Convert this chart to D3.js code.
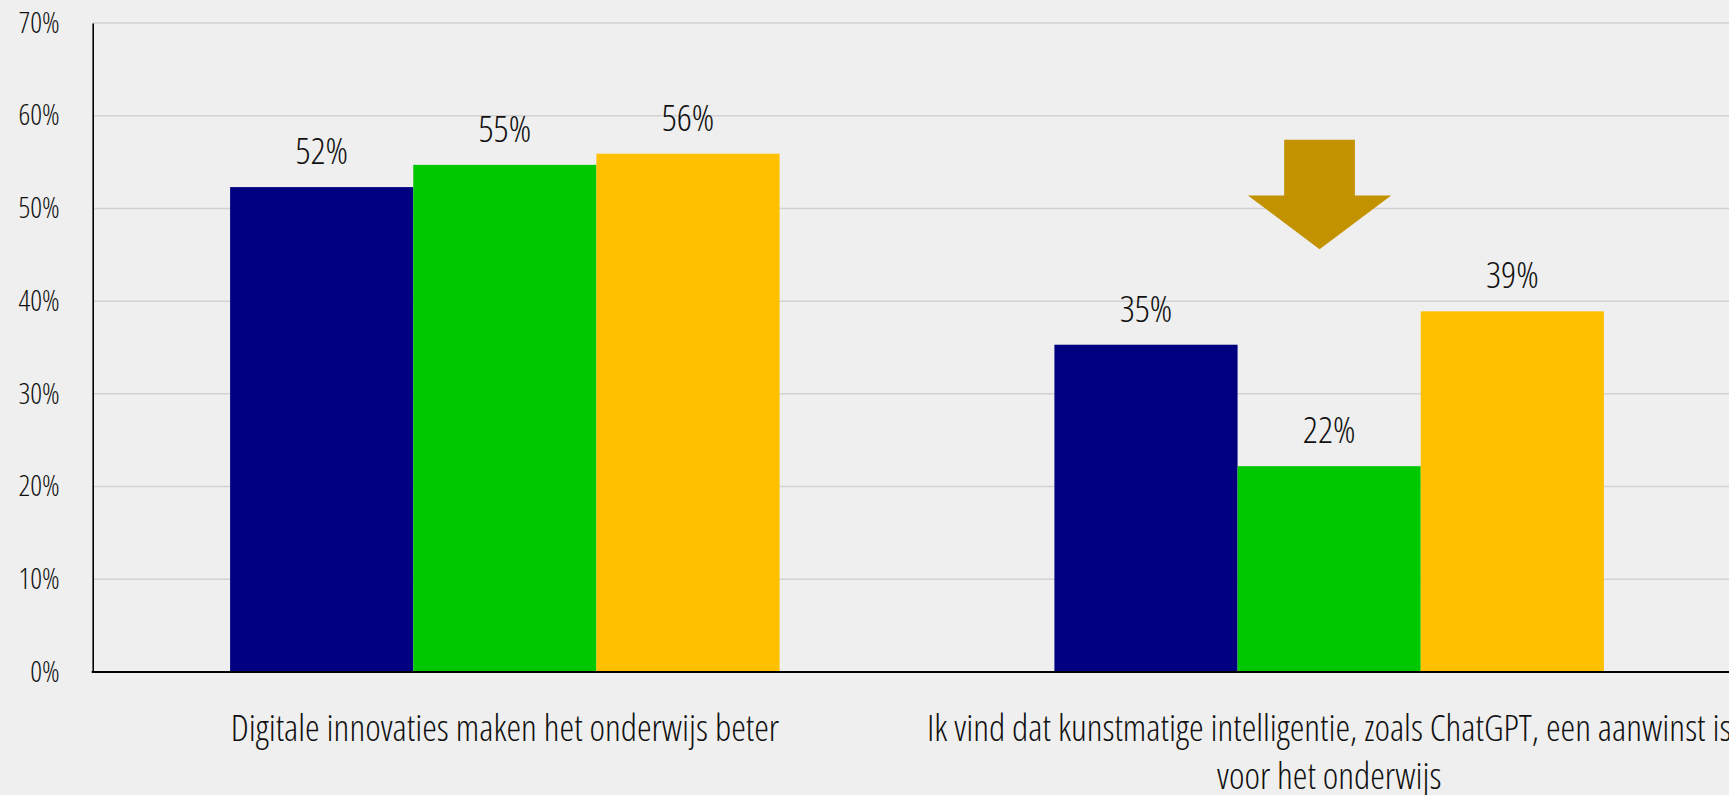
<!DOCTYPE html>
<html>
<head>
<meta charset="utf-8">
<script src="https://cdn.jsdelivr.net/npm/d3@7"></script>
<style>
  html, body { margin: 0; padding: 0; background: #efefef; overflow: hidden; }
  svg { display: block; }
  text { font-family: "Open Sans", sans-serif; font-weight: 300; font-stretch: 75%; fill: #111; }
</style>
</head>
<body>
<svg width="1729" height="795"></svg>
<script>
// chart values
const categories = [
  'Digitale innovaties maken het onderwijs beter',
  'Ik vind dat kunstmatige intelligentie, zoals ChatGPT, een aanwinst is voor het onderwijs'
]
const seriesNames = ['reeks 1', 'reeks 2', 'reeks 3']
const seriesValues = [
  [52.3, 35.3],   // navy
  [54.7, 22.2],   // green
  [55.9, 38.9]    // yellow
]
const valueLabels = [
  ['52%', '35%'],
  ['55%', '22%'],
  ['56%', '39%']
]
const yTicks = [0, 10, 20, 30, 40, 50, 60, 70]
const colors = ['#000080', '#00c800', '#ffc000']

// arrow annotation above the green bar of the second group (values in %)
const arrowTop = 57.4
const arrowShoulder = 51.4
const arrowTip = 45.6

const width = 1729
const height = 795
const margin = {top: 23, left: 92.7, bottom: 672}

const svg = d3.select('svg')

const x0 = d3.scaleBand()
  .domain(categories)
  .range([margin.left, margin.left + 2 * 824.3])

const groupPad = 137.4
const x1 = d3.scaleBand()
  .domain(seriesNames)
  .range([groupPad, x0.bandwidth() - groupPad])

const y = d3.scaleLinear()
  .domain([0, 70])
  .range([margin.bottom, margin.top])

// grid
svg.append('g')
  .attr('class', 'grid')
  .selectAll('line')
  .data(yTicks.filter(d => d > 0))
  .join('line')
  .attr('x1', margin.left)
  .attr('x2', width)
  .attr('y1', d => y(d))
  .attr('y2', d => y(d))
  .attr('stroke', '#d2d2d2')
  .attr('stroke-width', 1.5)

// bars
const rows = []
seriesNames.forEach((s, si) => {
  categories.forEach((c, ci) => {
    rows.push({s, si, c, value: seriesValues[si][ci], label: valueLabels[si][ci]})
  })
})

svg.append('g')
  .attr('class', 'bars')
  .selectAll('rect')
  .data(rows)
  .join('rect')
  .attr('x', d => x0(d.c) + x1(d.s))
  .attr('y', d => y(d.value))
  .attr('width', x1.bandwidth())
  .attr('height', d => y(0) - y(d.value))
  .attr('fill', d => colors[d.si])

svg.append('g')
  .attr('class', 'value-labels')
  .selectAll('text')
  .data(rows)
  .join('text')
  .attr('x', d => x0(d.c) + x1(d.s) + x1.bandwidth() / 2)
  .attr('y', d => y(d.value) - 23)
  .attr('text-anchor', 'middle')
  .attr('font-size', 37)
  .text(d => d.label)

// y axis
const yAxis = g => g
  .attr('transform', `translate(${margin.left},0)`)
  .call(d3.axisLeft(y).tickValues(yTicks).tickFormat(d => d + '%').tickSize(0).tickPadding(33))
  .call(g => g.select('.domain').attr('stroke', '#000').attr('stroke-width', 1.6))
  .call(g => g.selectAll('text')
    .attr('font-size', 29)
    .attr('font-family', null)
    .attr('fill', '#111'))

svg.append('g').attr('class', 'y-axis').call(yAxis)

// baseline
svg.append('line')
  .attr('x1', margin.left - 1)
  .attr('x2', width)
  .attr('y1', y(0))
  .attr('y2', y(0))
  .attr('stroke', '#000')
  .attr('stroke-width', 2)

// category labels, wrapped to the band width
const catLabels = svg.append('g')
  .attr('class', 'x-labels')
  .selectAll('text')
  .data(categories)
  .join('text')
  .attr('x', d => x0(d) + x0.bandwidth() / 2)
  .attr('y', 741)
  .attr('text-anchor', 'middle')
  .attr('font-size', 37)

catLabels.each(function(d) {
  const t = d3.select(this)
  const words = d.split(' ')
  const maxW = x0.bandwidth() - 10
  let line = []
  let tspan = t.append('tspan').attr('x', t.attr('x')).attr('dy', 0)
  words.forEach(w => {
    line.push(w)
    tspan.text(line.join(' '))
    if (tspan.node().getComputedTextLength() > maxW && line.length > 1) {
      line.pop()
      tspan.text(line.join(' '))
      line = [w]
      tspan = t.append('tspan').attr('x', t.attr('x')).attr('dy', 48).text(w)
    }
  })
})

// arrow
const ax = x0(categories[1]) + x1(seriesNames[1]) + x1.bandwidth() / 2 - 9.6
const shaftHalf = x1.bandwidth() * 0.193
const headHalf = x1.bandwidth() * 0.391
const arrowPts = [
  [ax - shaftHalf, y(arrowTop)],
  [ax + shaftHalf, y(arrowTop)],
  [ax + shaftHalf, y(arrowShoulder)],
  [ax + headHalf, y(arrowShoulder)],
  [ax, y(arrowTip)],
  [ax - headHalf, y(arrowShoulder)],
  [ax - shaftHalf, y(arrowShoulder)]
]
svg.append('path')
  .attr('d', d3.line()(arrowPts) + 'Z')
  .attr('fill', '#c29200')
</script>
</body>
</html>
